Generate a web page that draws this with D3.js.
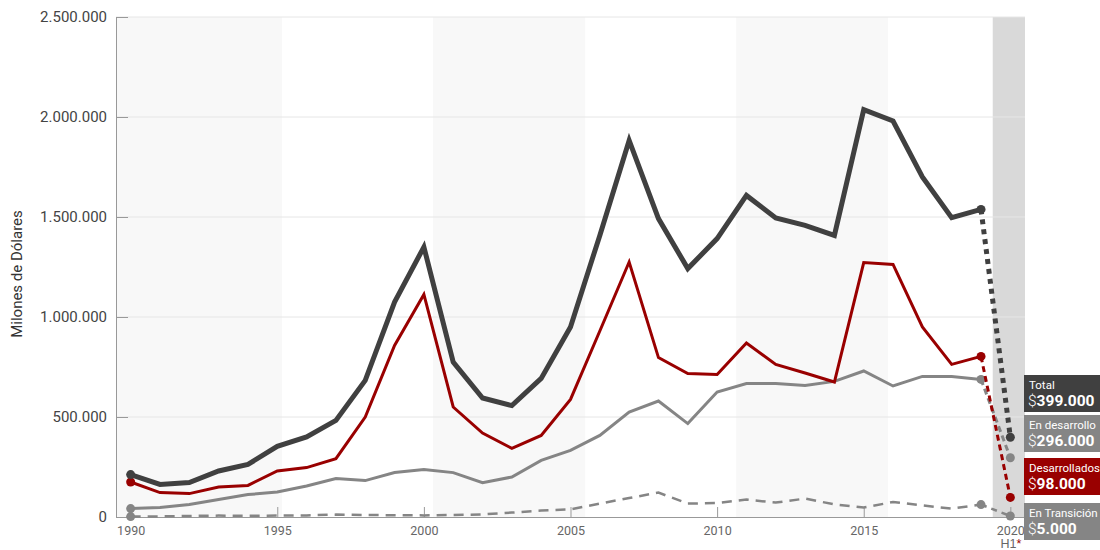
<!DOCTYPE html>
<html><head><meta charset="utf-8">
<script src="https://cdn.jsdelivr.net/npm/d3@7"></script>
<style>
html,body{margin:0;padding:0;background:#fff;}
svg{font-family:Roboto,"Noto Sans",sans-serif;display:block;}
</style></head>
<body><svg id="c" width="1100" height="550"></svg>
<script>
const years = d3.range(1990, 2021);
const total =       [212,163,172,230,263,353,400,483,683,1075,1350,775,595,557,693,950,1408,1883,1492,1242,1392,1608,1495,1458,1408,2037,1980,1700,1497,1538,399];
const developed =   [175,122,117,150,158,230,247,292,500,858,1113,550,420,343,408,588,930,1275,797,717,713,870,763,720,675,1272,1263,950,763,803,98];
const developing =  [42,47,63,87,112,125,155,192,182,222,237,222,172,200,283,333,408,525,580,467,625,667,667,658,678,730,655,703,702,688,296];
const transition =  [2,3,5,7,6,7,8,12,10,9,8,10,13,22,32,38,67,95,122,67,70,87,72,92,63,47,75,58,42,62,5];
const yTicks = [0,500000,1000000,1500000,2000000,2500000];
const xTicks = [1990,1995,2000,2005,2010,2015,2020];
const shadeBands = [[1989.5,1995.16],[2000.31,2005.5],[2010.65,2015.83]];
const highlightBand = [2019.4,2020.55];
const labels = ["Total","En desarrollo","Desarrollados","En Transición"];
const labelValues = [399000,296000,98000,5000];

const series = [
  {name:"En Transición", vals:transition, color:"#858585", width:2.5, dash:"10,7", projDash:"6,5"},
  {name:"En desarrollo", vals:developing, color:"#858585", width:3, dash:null, projDash:"6,4"},
  {name:"Desarrollados", vals:developed, color:"#990000", width:3, dash:null, projDash:"6,4"},
  {name:"Total", vals:total, color:"#404040", width:5, dash:null, projDash:"5,5"}
];
const boxColors = ["#404040","#858585","#990000","#858585"];
const boxTops = [375,415,458,503];

const svg = d3.select("#c");
const L=116, R=1025, T=17, B=517;
const x = d3.scaleLinear().domain([1989.5,2020.5]).range([L,R]);
const y = d3.scaleLinear().domain([0,2500000]).range([B,T]);
const loc = d3.formatLocale({decimal:",",thousands:".",grouping:[3],currency:["$",""]});
const fmt = loc.format(",d");

// background bands
svg.append("g").selectAll("rect").data(shadeBands).join("rect")
  .attr("x",d=>x(d[0])).attr("width",d=>x(d[1])-x(d[0]))
  .attr("y",T).attr("height",B-T).attr("fill","#f8f8f8");
svg.append("rect").attr("x",x(highlightBand[0])).attr("width",R-x(highlightBand[0]))
  .attr("y",T).attr("height",B-T).attr("fill","#d9d9d9");

// grid
svg.append("g").selectAll("line").data(yTicks.slice(1)).join("line")
  .attr("x1",L).attr("x2",R).attr("y1",d=>y(d)).attr("y2",d=>y(d))
  .attr("stroke","#e6e6e6").attr("stroke-width",1);

// y axis
const ya = svg.append("g").attr("transform",`translate(${L},0)`)
  .call(d3.axisLeft(y).tickValues(yTicks).tickFormat(fmt).tickSizeInner(-12).tickSizeOuter(0).tickPadding(9));
ya.select(".domain").attr("stroke","#999");
ya.selectAll(".tick line").attr("stroke","#999");
ya.selectAll("text").attr("fill","#444").attr("font-size",15).attr("font-family","Roboto");

// x axis
const xa = svg.append("g").attr("transform",`translate(0,${B})`)
  .call(d3.axisBottom(x).tickValues(xTicks).tickFormat(d=>String(d)).tickSizeInner(-10).tickSizeOuter(0).tickPadding(9));
xa.select(".domain").attr("stroke","#999");
xa.selectAll(".tick line").attr("stroke","#999");
xa.selectAll("text").attr("fill","#666").attr("font-size",12.5).attr("font-family","Roboto").attr("dy","0.71em");
xa.selectAll(".tick").filter(d=>d===2020).append("text")
  .attr("y",30.5).attr("text-anchor","middle").attr("font-size",12.5).attr("fill","#666")
  .call(t=>{t.append("tspan").text("H1");t.append("tspan").attr("fill","#990000").text("*");});

// y label
svg.append("text").attr("transform",`translate(22,274) rotate(-90)`)
  .attr("text-anchor","middle").attr("font-size",15).attr("fill","#333").text("Milones de Dólares");

const line = d3.line().x(d=>x(d[0])).y(d=>y(d[1]*1000));
series.forEach(s=>{
  const pts = years.map((yr,i)=>[yr,s.vals[i]]);
  const main = pts.slice(0,pts.length-1);
  const proj = pts.slice(pts.length-2);
  svg.append("path").datum(main).attr("d",line).attr("fill","none")
    .attr("stroke",s.color).attr("stroke-width",s.width).attr("stroke-linejoin","miter")
    .attr("stroke-dasharray",s.dash);
  svg.append("path").datum(proj).attr("d",line).attr("fill","none")
    .attr("stroke",s.color).attr("stroke-width",s.width).attr("stroke-dasharray",s.projDash);
  svg.append("g").selectAll("circle").data([pts[0],pts[pts.length-2],pts[pts.length-1]]).join("circle")
    .attr("cx",d=>x(d[0])).attr("cy",d=>y(d[1]*1000)).attr("r",4.5).attr("fill",s.color);
});

// right labels
const money = loc.format(",d");
labels.forEach((lab,i)=>{
  const g = svg.append("g").attr("transform",`translate(${R-1},${boxTops[i]})`);
  g.append("rect").attr("width",1100-R+1).attr("height",37).attr("fill",boxColors[i]);
  g.append("text").attr("x",5).attr("y",13.5).attr("fill","#fff").attr("font-size",11.5).text(lab);
  const t = g.append("text").attr("x",4).attr("y",31).attr("fill","#fff").attr("font-size",15.5);
  t.append("tspan").attr("font-weight",300).text("$");
  t.append("tspan").attr("font-weight",700).text(money(labelValues[i]));
});
</script></body></html>
